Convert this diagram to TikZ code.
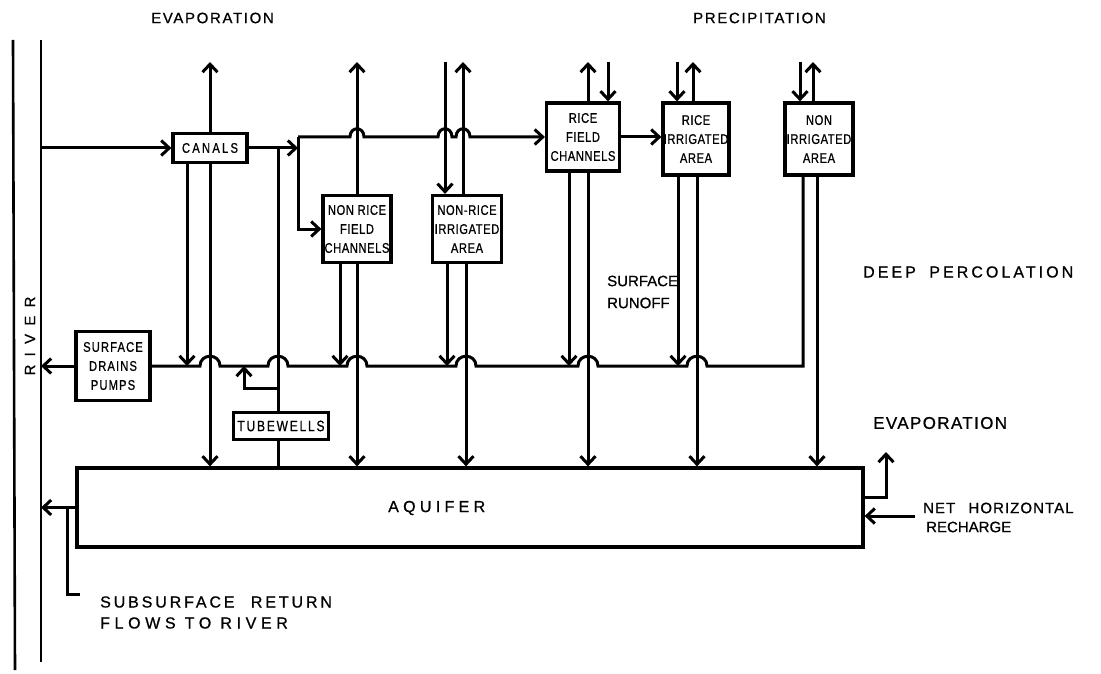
\documentclass[tikz,border=0pt]{standalone}
\usepackage{fontspec}
\setmainfont{Liberation Sans}
\newfontfamily\boxfont{Liberation Sans}[FakeStretch=0.8]
\usetikzlibrary{arrows.meta}

% size, baselineskip, letter spacing
\newcommand{\hand}[3]{\fontsize{#1}{#2}\selectfont\addfontfeature{LetterSpace=#3,FakeBold=0.8}}

\tikzset{
  box/.style={draw, line width=3.2pt, inner sep=0pt, align=center,
    font=\boxfont\hand{14}{19}{4}},
  flow/.style={line width=3pt},
  arr/.style={flow, -{Straight Barb[length=8pt,width=15pt]}},
  lbl/.style={inner sep=0pt, anchor=west},
}

\begin{document}
\begin{tikzpicture}[x=1pt, y=-1pt]
\useasboundingbox (0,0) rectangle (1101,674);

% River
\draw[line width=2.6pt] (13,40) -- (15,670);
\draw[line width=2.6pt] (41,40) -- (41,662);
\node[rotate=90, inner sep=0pt, font=\hand{15}{15}{55}] (river) at (30,336) {RIVER};
\coordinate (rvr) at (41,40);
\coordinate (top) at (0,62);
\coordinate (drain) at (0,366);

% Boxes
\node[box, minimum width=74pt, minimum height=29pt, font=\boxfont\hand{14}{19}{16}] (canals) at (210,148) {CANALS};
\node[box, minimum width=68pt, minimum height=67pt] (nrfc) at (357,229) {NON RICE\\FIELD\\CHANNELS};
\node[box, minimum width=69pt, minimum height=67pt] (nria) at (467,229) {NON-RICE\\IRRIGATED\\AREA};
\node[box, minimum width=73pt, minimum height=68pt] (rfc) at (583,137) {RICE\\FIELD\\CHANNELS};
\node[box, minimum width=66pt, minimum height=72pt] (ria) at (696,139) {RICE\\IRRIGATED\\AREA};
\node[box, minimum width=68pt, minimum height=72pt] (nia) at (819,139) {NON\\IRRIGATED\\AREA};
\node[box, minimum width=74pt, minimum height=69pt, font=\boxfont\hand{14}{19}{8}] (drains) at (113,366) {SURFACE\\DRAINS\\PUMPS};
\node[box, minimum width=95pt, minimum height=27pt, font=\boxfont\hand{15}{19}{12}] (tubewells) at (281,426) {TUBEWELLS};
\node[box, minimum width=786pt, minimum height=79pt] (aquifer) at (470,507.5) {};
\node[lbl, font=\hand{16}{16}{27}] (aqtext) at (388,508) {AQUIFER};

% Canal supply
\draw[arr] (canals.west -| rvr) -- (canals.west);
\coordinate (split) at (298,137);
\draw[arr] (canals.east) -- (canals.east -| split);
\draw[arr] (split) |- (nrfc.west);
\draw[arr] (split) -- (350,137) .. controls (350,126) and (364,126) .. (364,137)
  -- (438,137) .. controls (438,126) and (452,126) .. (452,137)
  -- (456,137) .. controls (456,126) and (470,126) .. (470,137) -- (rfc.west);
\draw[arr] (rfc.east) -- (rfc.east -| ria.west);

% Evaporation and precipitation
\draw[arr] (canals.north) -- (canals.north |- top);
\draw[arr] (nrfc.north) -- (nrfc.north |- top);
\foreach \b/\x in {nria/463, rfc/588, ria/693, nia/813}
  \draw[arr] (\x,0 |- \b.north) -- (\x,0 |- top);
\foreach \b/\x in {nria/445, rfc/608, ria/677, nia/800}
  \draw[arr] (\x,0 |- top) -- (\x,0 |- \b.north);

% Surface runoff to drains
\foreach \b/\x in {canals/187, nrfc/340, nria/447, rfc/569, ria/678}
  \draw[arr] (\x,0 |- \b.south) -- (\x,0 |- drain);
\draw[flow] (803,0 |- nia.south) -- (803,366) -- (707,366)
  .. controls (707,353) and (687,353) .. (687,366) -- (598,366)
  .. controls (598,353) and (578,353) .. (578,366) -- (476,366)
  .. controls (476,353) and (456,353) .. (456,366) -- (367,366)
  .. controls (367,353) and (347,353) .. (347,366) -- (288,366)
  .. controls (288,353) and (268,353) .. (268,366) -- (220,366)
  .. controls (220,353) and (200,353) .. (200,366) -- (drains.east);
\draw[arr] (drains.west) -- (drains.west -| rvr);

% Deep percolation
\foreach \b/\x in {canals/210, nrfc/357, nria/466, rfc/588, ria/697, nia/817}
  \draw[arr] (\x,0 |- \b.south) -- (\x,0 |- aquifer.north);

% Tubewells
\draw[flow] (278,0 |- canals.east) -- (278,0 |- tubewells.north);
\draw[flow] (278,0 |- tubewells.south) -- (278,0 |- aquifer.north);
\draw[arr] (278,388) -| (244,0 |- drain);

% Aquifer exchanges
\draw[arr] (aquifer.west) -- (aquifer.west -| rvr);
\coordinate (retL) at (67,594);
\draw[flow] (aquifer.west -| retL) -- (retL) -- ++(13,0);
\coordinate (evap) at (886,452);
\draw[arr] (aquifer.east |- 0,497) -| (evap);
\coordinate (rech) at (915,516);
\draw[arr] (rech) -- (rech -| aquifer.east);

% Labels
\node[lbl, font=\hand{15}{15}{11}] (evtop) at (151,18) {EVAPORATION};
\node[lbl, font=\hand{15}{15}{11}] (prec) at (693,18) {PRECIPITATION};
\node[lbl, font=\hand{15}{22}{0}, align=left] (runoff) at (607,292) {SURFACE\\RUNOFF};
\node[lbl, font=\hand{16}{16}{19}] (deep) at (863,272) {DEEP\hspace{6pt} PERCOLATION};
\node[lbl, font=\hand{17}{17}{8}] (evright) at (873,423) {EVAPORATION};
\node[lbl, font=\hand{15}{15}{7}] (net) at (923,508) {NET\hspace{8pt} HORIZONTAL};
\node[lbl, font=\hand{15}{15}{0}] (recharge) at (926,527) {RECHARGE};
\node[lbl, font=\hand{16}{16}{18}] (subsurf) at (100,602) {SUBSURFACE\hspace{9pt} RETURN};
\node[lbl, font=\hand{16}{16}{29}] (flows) at (100,623) {FLOWS TO RIVER};
\end{tikzpicture}
\end{document}
